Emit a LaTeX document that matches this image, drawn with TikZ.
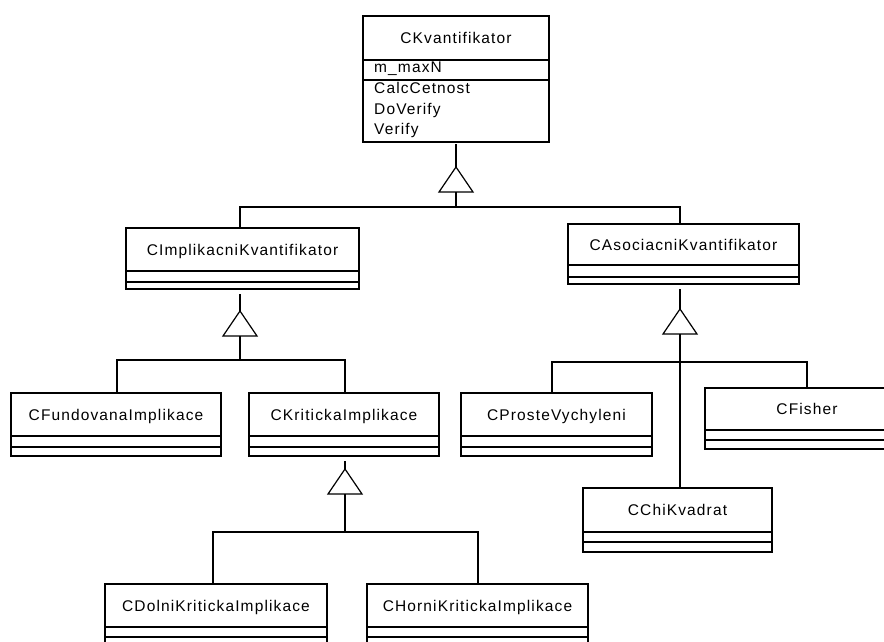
\documentclass[tikz,border=0pt]{standalone}
\usepackage{fontspec}
\newfontfamily\umlfont{Liberation Sans}[LetterSpace=7.3]
\newcommand\umlsize{\fontsize{15.5}{18}\selectfont}

% One class: name, left, top, right, first divider, second divider, bottom, title
\newcommand\umlclass[8]{%
  \node[classbox, minimum width={(#4-#2)*1pt}, minimum height={(#7-#3)*1pt}] (#1) at (#2,#3) {};
  \draw[link] (#1.west |- 0,#5) -- (#1.east |- 0,#5);
  \draw[link] (#1.west |- 0,#6) -- (#1.east |- 0,#6);
  \node[classtitle] (#1-t) at ({(#2+#4)/2},{(#3+#5)/2+5.5}) {#8};
}
% Generalisation triangle: name, x of apex, y of apex
\newcommand\gentri[3]{%
  \coordinate (#1) at (#2,#3);
  \draw[gen] (#1) -- ++(17,25) -- ++(-34,0) -- cycle;
  \coordinate (#1-b) at (#2,#3+25);
}

\begin{document}
\begin{tikzpicture}[x=1pt, y=-1pt,
  link/.style={draw=black, line width=1.2pt},
  classbox/.style={draw=black, fill=white, line width=1.2pt, rectangle,
    inner sep=0pt, outer sep=0pt, anchor=north west},
  classtitle/.style={inner sep=0pt, anchor=base, font=\umlfont\umlsize},
  member/.style={inner sep=0pt, anchor=base west, font=\umlfont\umlsize},
  gen/.style={draw=black, fill=white, line width=1.2pt, line join=miter}]

\useasboundingbox (0,0) rectangle (884,642);
\clip (0,0) rectangle (884,642);

% ---- classes ----
\umlclass{K}{363}{16}{549}{60}{80}{142}{CKvantifikator}
\node[member] (K-m1) at (374,73)  {m\_maxN};
\node[member] (K-m2) at (374,94)  {CalcCetnost};
\node[member] (K-m3) at (374,114) {DoVerify};
\node[member] (K-m4) at (374,134) {Verify};

\umlclass{Imp}{126}{228}{359}{271}{282}{289}{CImplikacniKvantifikator}
\umlclass{Aso}{568}{224}{799}{265}{277}{284}{CAsociacniKvantifikator}

\umlclass{Fund}{11}{393}{221}{436}{447}{456}{CFundovanaImplikace}
\umlclass{Krit}{249}{393}{439}{436}{447}{456}{CKritickaImplikace}
\umlclass{Prost}{461}{393}{652}{436}{447}{456}{CProsteVychyleni}
\umlclass{Fisher}{705}{388}{909}{430}{440}{449}{CFisher}
\umlclass{Chi}{583}{488}{772}{532}{542}{552}{CChiKvadrat}

\umlclass{Dolni}{105}{584}{327}{627}{637}{648}{CDolniKritickaImplikace}
\umlclass{Horni}{367}{584}{588}{627}{637}{648}{CHorniKritickaImplikace}

% ---- CKvantifikator hierarchy ----
\gentri{t1}{456}{167}
\draw[link] ([yshift=-2pt]K.south) -- (t1);
\coordinate (j1) at (456,207);
\draw[link] (t1-b) -- (j1);
\draw[link] (j1) -| ([xshift=-2.5pt]Imp.north);
\draw[link] (j1) -| ([xshift=-3.5pt]Aso.north);

% ---- CImplikacniKvantifikator hierarchy ----
\gentri{t2}{240}{311}
\draw[link] ([xshift=-2.5pt,yshift=-5pt]Imp.south) -- (t2);
\coordinate (j2) at (240,360);
\draw[link] (t2-b) -- (j2);
\draw[link] (j2) -| ([xshift=1pt]Fund.north);
\draw[link] (j2) -| ([xshift=1pt]Krit.north);

% ---- CKritickaImplikace hierarchy ----
\gentri{t3}{345}{469}
\draw[link] ([xshift=1pt,yshift=-5pt]Krit.south) -- (t3);
\coordinate (j3) at (345,532);
\draw[link] (t3-b) -- (j3);
\draw[link] (j3) -| ([xshift=-3pt]Dolni.north);
\draw[link] (j3) -| ([xshift=0.5pt]Horni.north);

% ---- CAsociacniKvantifikator hierarchy ----
\gentri{t4}{680}{309}
\draw[link] ([xshift=-3.5pt,yshift=-5pt]Aso.south) -- (t4);
\coordinate (j4) at (680,362);
\draw[link] (t4-b) -- (j4);
\draw[link] (j4) -| ([xshift=-4.5pt]Prost.north);
\draw[link] (j4) -| (Fisher.north);
\draw[link] (j4) -- (j4 |- Chi.north);
\end{tikzpicture}
\end{document}
